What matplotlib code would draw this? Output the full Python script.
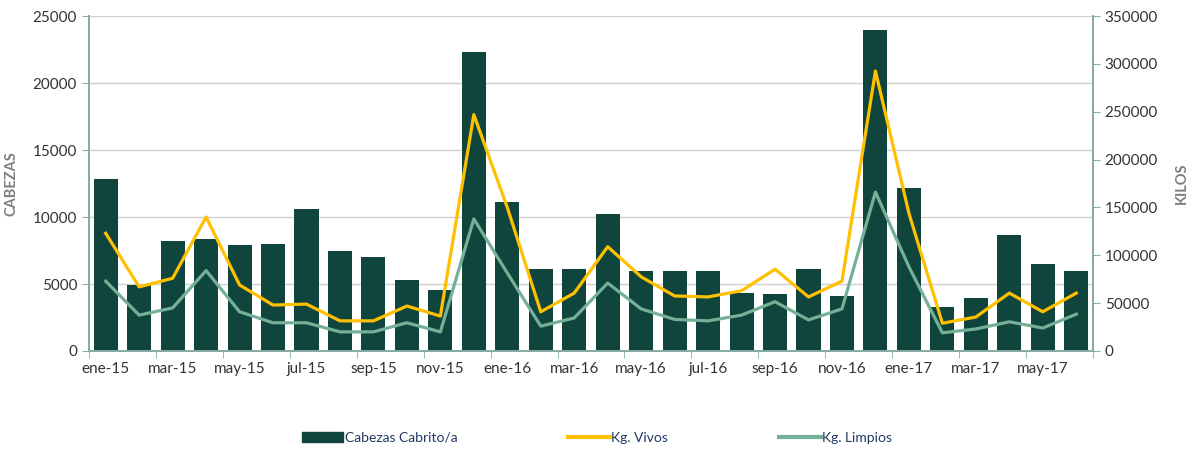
import numpy as np
import matplotlib.pyplot as plt
from matplotlib.patches import Patch
from matplotlib.lines import Line2D

plt.rcParams['font.family'] = ['Lato', 'DejaVu Sans']

meses = ['ene-15', 'feb-15', 'mar-15', 'abr-15', 'may-15', 'jun-15', 'jul-15', 'ago-15',
         'sep-15', 'oct-15', 'nov-15', 'dic-15', 'ene-16', 'feb-16', 'mar-16', 'abr-16',
         'may-16', 'jun-16', 'jul-16', 'ago-16', 'sep-16', 'oct-16', 'nov-16', 'dic-16',
         'ene-17', 'feb-17', 'mar-17', 'abr-17', 'may-17', 'jun-17']
cabezas = [12800, 4950, 8200, 8350, 7900, 7950, 10600, 7500, 7000, 5300, 4550, 22300,
           11150, 6100, 6100, 10250, 5950, 6000, 5950, 4300, 4250, 6150, 4100, 23950,
           12150, 3300, 3950, 8650, 6500, 5950]
kg_vivos = [123000, 67000, 76000, 140000, 69000, 48000, 49000, 31500, 31500, 47000,
            36500, 247000, 150000, 41000, 60500, 109000, 77500, 57500, 56500, 63000,
            85500, 56500, 73000, 292500, 144000, 29000, 35500, 60500, 41000, 60500]
kg_limpios = [73000, 37500, 45000, 84000, 41000, 29500, 29500, 20000, 20000, 29500,
              20000, 138000, 81500, 26000, 34500, 71000, 44000, 33000, 31500, 37500,
              51500, 32500, 44000, 166000, 88000, 19000, 23000, 30500, 24000, 38500]

c_bar = '#10453e'
c_vivos = '#ffc000'
c_limp = '#74b097'
c_axis = '#86aca4'
c_txt = '#333333'

fig = plt.figure(figsize=(11.94, 4.5), dpi=100)
ax = fig.add_axes([0.0745, 0.22, 0.8409, 0.7444])
ax2 = ax.twinx()

x = np.arange(len(meses))
ax.bar(x, cabezas, width=0.72, color=c_bar, zorder=2)
ax2.plot(x, kg_vivos, color=c_vivos, lw=2.3, zorder=3)
ax2.plot(x, kg_limpios, color=c_limp, lw=2.3, zorder=3)

ax.set_xlim(-0.5, len(meses) - 0.5)
ax.set_ylim(0, 25000)
ax2.set_ylim(0, 350000)
ax.set_yticks(np.arange(0, 25001, 5000))
ax2.set_yticks(np.arange(0, 350001, 50000))
ax.set_xticks(x[::2])
ax.set_xticklabels(meses[::2])
ax.set_xticks(np.arange(-0.5, len(meses), 2), minor=True)
ax.tick_params(axis='x', which='major', length=0, labelsize=11, colors=c_txt, pad=8)
ax.tick_params(axis='x', which='minor', length=5, color=c_axis)
ax.tick_params(axis='y', length=5, color=c_axis, labelsize=11, labelcolor=c_txt)
ax2.tick_params(axis='y', length=5, color=c_axis, labelsize=11, labelcolor=c_txt)

ax.grid(axis='y', color='#d0d0d0', lw=1, zorder=0)
ax.set_axisbelow(True)
for a in (ax, ax2):
    a.spines['top'].set_visible(False)
    a.spines['left'].set_color(c_axis)
    a.spines['right'].set_color(c_axis)
    a.spines['bottom'].set_color(c_axis)
    a.spines['left'].set_linewidth(1.3)
    a.spines['right'].set_linewidth(1.3)
    a.spines['bottom'].set_linewidth(1.3)

ax.set_ylabel('CABEZAS', color='#7f7f7f', fontweight='bold', fontsize=10.5, labelpad=10)
ax2.set_ylabel('KILOS', color='#7f7f7f', fontweight='bold', fontsize=10.5, labelpad=12)

handles = [Patch(color=c_bar), Line2D([], [], color=c_vivos, lw=3),
           Line2D([], [], color=c_limp, lw=3)]
fig.legend(handles, ['Cabezas Cabrito/a', 'Kg. Vivos', 'Kg. Limpios'],
           loc='center', bbox_to_anchor=(0.5, 0.027), ncol=3, frameon=False,
           fontsize=10, columnspacing=8, handlelength=3, handletextpad=0.1,
           labelcolor='#1f3864')

fig.savefig('out.png', dpi=100)
